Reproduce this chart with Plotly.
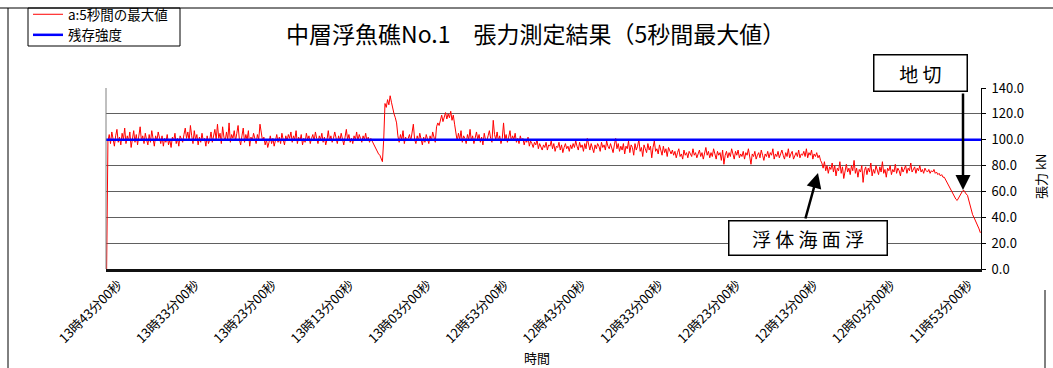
import pandas as pd
import plotly.graph_objects as go

# ---- data -------------------------------------------------------------
# 5-second maximum tension (kN), sampled every 10 s going back in time
# from 13:44:30 (the recording runs from right to left on the time axis).
start_time = "2000-01-01 13:44:30"
sample_step = "-10s"

tension_kn = [
    0, 99, 104, 97, 106, 101, 95, 103, 108, 98, 102, 96, 105, 100, 109, 97, 103, 99, 106, 94,
    101, 107, 98, 104, 96, 102, 110, 99, 103, 97, 105, 100, 96, 104, 98, 107, 101, 95, 103, 99,
    106, 100, 97, 103, 95, 101, 98, 104, 96, 100, 94, 102, 99, 105, 97, 101, 95, 103, 100, 98,
    104, 109, 101, 106, 99, 111, 103, 97, 107, 100, 104, 96, 102, 98, 105, 99, 101, 95, 103, 97,
    100, 106, 98, 103, 108, 100, 112, 101, 105, 97, 110, 102, 99, 106, 100, 113, 98, 104, 101, 107,
    99, 105, 111, 100, 96, 103, 109, 98, 104, 100, 107, 95, 102, 99, 105, 101, 97, 104, 100, 112,
    105, 99, 102, 96, 100, 94, 98, 103, 97, 101, 95, 99, 104, 98, 102, 97, 105, 100, 96, 103,
    99, 104, 101, 106, 98, 103, 100, 107, 97, 102, 99, 104, 96, 101, 98, 105, 100, 103, 97, 101,
    104, 99, 106, 101, 97, 103, 100, 105, 98, 102, 96, 100, 107, 99, 103, 98, 101, 106, 100, 97,
    103, 99, 105, 101, 96, 102, 108, 100, 104, 98, 101, 97, 103, 100, 106, 99, 104, 101, 98, 103,
    100, 105, 99, 102, 98, 101, 99, 96, 94, 92, 91, 89, 88, 86, 83, 100, 128, 125, 131, 127,
    134, 129, 124, 120, 117, 113, 103, 98, 104, 100, 107, 97, 102, 99, 101, 104, 99, 106, 112, 100,
    97, 103, 99, 105, 100, 96, 102, 98, 104, 100, 97, 103, 99, 106, 101, 98, 110, 113, 111, 116,
    119, 114, 118, 121, 116, 120, 117, 122, 115, 119, 112, 103, 99, 105, 100, 107, 98, 103, 101, 97,
    104, 100, 108, 99, 103, 97, 101, 106, 100, 104, 98, 102, 96, 105, 100, 99, 103, 107, 101, 98,
    115, 104, 100, 106, 99, 103, 97, 101, 113, 100, 104, 98, 102, 107, 99, 103, 100, 105, 98, 101,
    97, 103, 99, 101, 96, 100, 98, 102, 95, 99, 97, 94, 98, 96, 100, 93, 97, 95, 92, 96,
    94, 98, 92, 96, 95, 99, 93, 97, 91, 95, 94, 98, 92, 96, 90, 94, 97, 93, 95, 91,
    96, 93, 97, 94, 99, 95, 92, 98, 94, 96, 91, 97, 93, 101, 95, 92, 97, 94, 90, 96,
    93, 97, 95, 91, 98, 94, 96, 92, 99, 95, 93, 97, 94, 90, 96, 101, 93, 97, 91, 95,
    92, 97, 89, 95, 93, 99, 90, 96, 94, 88, 97, 92, 95, 100, 91, 94, 87, 96, 93, 90,
    97, 92, 95, 86, 94, 99, 91, 93, 89, 96, 92, 88, 95, 90, 93, 87, 94, 91, 89, 92,
    88, 91, 86, 90, 93, 87, 89, 85, 92, 88, 90, 86, 91, 89, 87, 93, 88, 90, 86, 89,
    92, 87, 90, 85, 89, 94, 88, 91, 86, 90, 87, 93, 89, 85, 91, 88, 90, 84, 92, 81,
    88, 91, 86, 90, 87, 93, 89, 85, 91, 88, 92, 86, 89, 87, 91, 85, 90, 88, 93, 86,
    81, 89, 87, 91, 85, 88, 90, 86, 92, 88, 84, 89, 87, 91, 86, 90, 88, 93, 85, 89,
    87, 91, 86, 89, 92, 88, 85, 90, 87, 93, 86, 89, 91, 85, 88, 90, 87, 92, 86, 89,
    88, 91, 87, 93, 86, 90, 88, 92, 85, 89, 87, 90, 86, 88, 84, 82, 78, 83, 76, 80,
    74, 79, 77, 82, 75, 80, 72, 78, 76, 83, 74, 79, 70, 77, 81, 75, 78, 73, 80, 76,
    84, 74, 78, 71, 77, 75, 80, 67, 76, 79, 73, 78, 75, 82, 72, 77, 74, 80, 76, 73,
    79, 75, 83, 74, 77, 71, 78, 76, 80, 73, 77, 75, 81, 74, 78, 76, 72, 79, 75, 77,
    80, 74, 78, 76, 82, 75, 77, 79, 74, 78, 76, 80, 75, 77, 74, 78, 76, 75, 77, 74,
    76, 75, 77, 74, 75, 73, 74, 72, 73, 71, 71, 69, 67, 66, 64, 62, 60, 58, 56, 54,
    53, 55, 57, 59, 60, 61, 59, 58, 57, 53, 48, 45, 42, 40, 38, 36, 34, 31, 28,
]

residual_strength_kn = 100.0

tick_times = ["13:43", "13:33", "13:23", "13:13", "13:03", "12:53",
              "12:43", "12:33", "12:23", "12:13", "12:03", "11:53"]

axis_start = "2000-01-01 13:44:35"
axis_end = "2000-01-01 11:51:25"

series_name = "a:5秒間の最大値"
strength_name = "残存強度"
title_text = "中層浮魚礁No.1　張力測定結果（5秒間最大値）"

# ---- build ------------------------------------------------------------
times = pd.date_range(start=start_time, periods=len(tension_kn), freq=sample_step)
tick_vals = [pd.Timestamp("2000-01-01 " + t) for t in tick_times]

FONT = "Noto Sans CJK JP"

# pixel helpers for the paper coordinate system of a 875x181 plot area
L, R, T, B = 106, 981, 88, 269
def px(xp):
    return (xp - L) / (R - L)
def py(yp):
    return (B - yp) / (B - T)

fig = go.Figure()
fig.add_trace(go.Scatter(
    x=times, y=tension_kn, mode="lines", name=series_name,
    line=dict(color="#FF0000", width=1),
))
fig.add_trace(go.Scatter(
    x=[pd.Timestamp(axis_start), pd.Timestamp(axis_end)],
    y=[residual_strength_kn, residual_strength_kn],
    mode="lines", name=strength_name,
    line=dict(color="#0000FF", width=2.5),
))

fig.update_layout(
    width=1053, height=368,
    margin=dict(l=L, r=1053 - R, t=T, b=368 - B, pad=0, autoexpand=False),
    paper_bgcolor="white", plot_bgcolor="white",
    font=dict(family=FONT, size=12, color="black"),
    showlegend=True,
    legend=dict(
        x=px(28), y=py(-1), xanchor="left", yanchor="top",
        borderwidth=0, bgcolor="rgba(0,0,0,0)",
        font=dict(family=FONT, size=13.5, color="black"),
        tracegroupgap=0, itemwidth=30,
    ),
    xaxis=dict(
        type="date", range=[axis_start, axis_end],
        tickvals=tick_vals, tickformat="%H時%M分%S秒",
        tickangle=-45, tickfont=dict(size=13, color="black"),
        showgrid=False, zeroline=False,
        showline=True, linecolor="#111111", linewidth=3,
        ticks="", automargin=False,
    ),
    yaxis=dict(
        side="right", range=[0, 140], dtick=20, tickformat=".1f",
        tickfont=dict(size=13, color="black"),
        showgrid=True, gridcolor="#606060", gridwidth=1,
        zeroline=False, showline=True, linecolor="black", linewidth=1,
        ticks="outside", ticklen=4, tickcolor="black",
        ticklabelstandoff=3, automargin=False,
    ),
)

# plot-area left edge, legend frame and outer frame lines
shape_lines = [
    (L, T, L, B, "#808080"),
    (8, 8, 8, 368, "black"),
    (0, 8, 1053, 8, "black"),
    (1045, 290, 1045, 368, "black"),
]
for x0, y0, x1, y1, c in shape_lines:
    fig.add_shape(type="line", xref="paper", yref="paper",
                  x0=px(x0), y0=py(y0), x1=px(x1), y1=py(y1),
                  line=dict(color=c, width=1))
fig.add_shape(type="rect", xref="paper", yref="paper",
              x0=px(28), y0=py(8), x1=px(180), y1=py(46),
              line=dict(color="black", width=1), fillcolor="rgba(0,0,0,0)")

annotations = [
    # title
    dict(text=title_text, x=px(535), y=py(33), xref="paper", yref="paper",
         xanchor="center", yanchor="middle", showarrow=False,
         font=dict(family=FONT, size=23, color="black")),
    # x axis title
    dict(text="時間", x=px(537), y=py(357), xref="paper", yref="paper",
         xanchor="center", yanchor="middle", showarrow=False,
         font=dict(family=FONT, size=13, color="black")),
    # y axis title
    dict(text="張力 kN", x=px(1040), y=py(176), xref="paper", yref="paper",
         xanchor="center", yanchor="middle", showarrow=False, textangle=-90,
         font=dict(family=FONT, size=13, color="black")),
    # callout boxes
    dict(text="地 切", x=px(920.5), y=py(73), xref="paper", yref="paper",
         xanchor="center", yanchor="middle", showarrow=False,
         width=90, height=33, borderpad=1, bordercolor="black", borderwidth=1.5,
         bgcolor="white", font=dict(family=FONT, size=19, color="black")),
    dict(text="浮 体 海 面 浮", x=px(808), y=py(237.5), xref="paper", yref="paper",
         xanchor="center", yanchor="middle", showarrow=False,
         width=155, height=31, borderpad=1, bordercolor="black", borderwidth=1.5,
         bgcolor="white", font=dict(family=FONT, size=19, color="black")),
    # arrows
    dict(text="", x=px(963), y=py(190), xref="paper", yref="paper",
         showarrow=True, ax=0, ay=-98, arrowhead=2, arrowsize=1.2, arrowwidth=2.5,
         arrowcolor="black", standoff=0),
    dict(text="", x=px(818), y=py(173), xref="paper", yref="paper",
         showarrow=True, ax=-13, ay=47, arrowhead=2, arrowsize=1.2, arrowwidth=2.5,
         arrowcolor="black", standoff=0),
]
fig.update_layout(annotations=annotations)

fig.write_html("out.html")
